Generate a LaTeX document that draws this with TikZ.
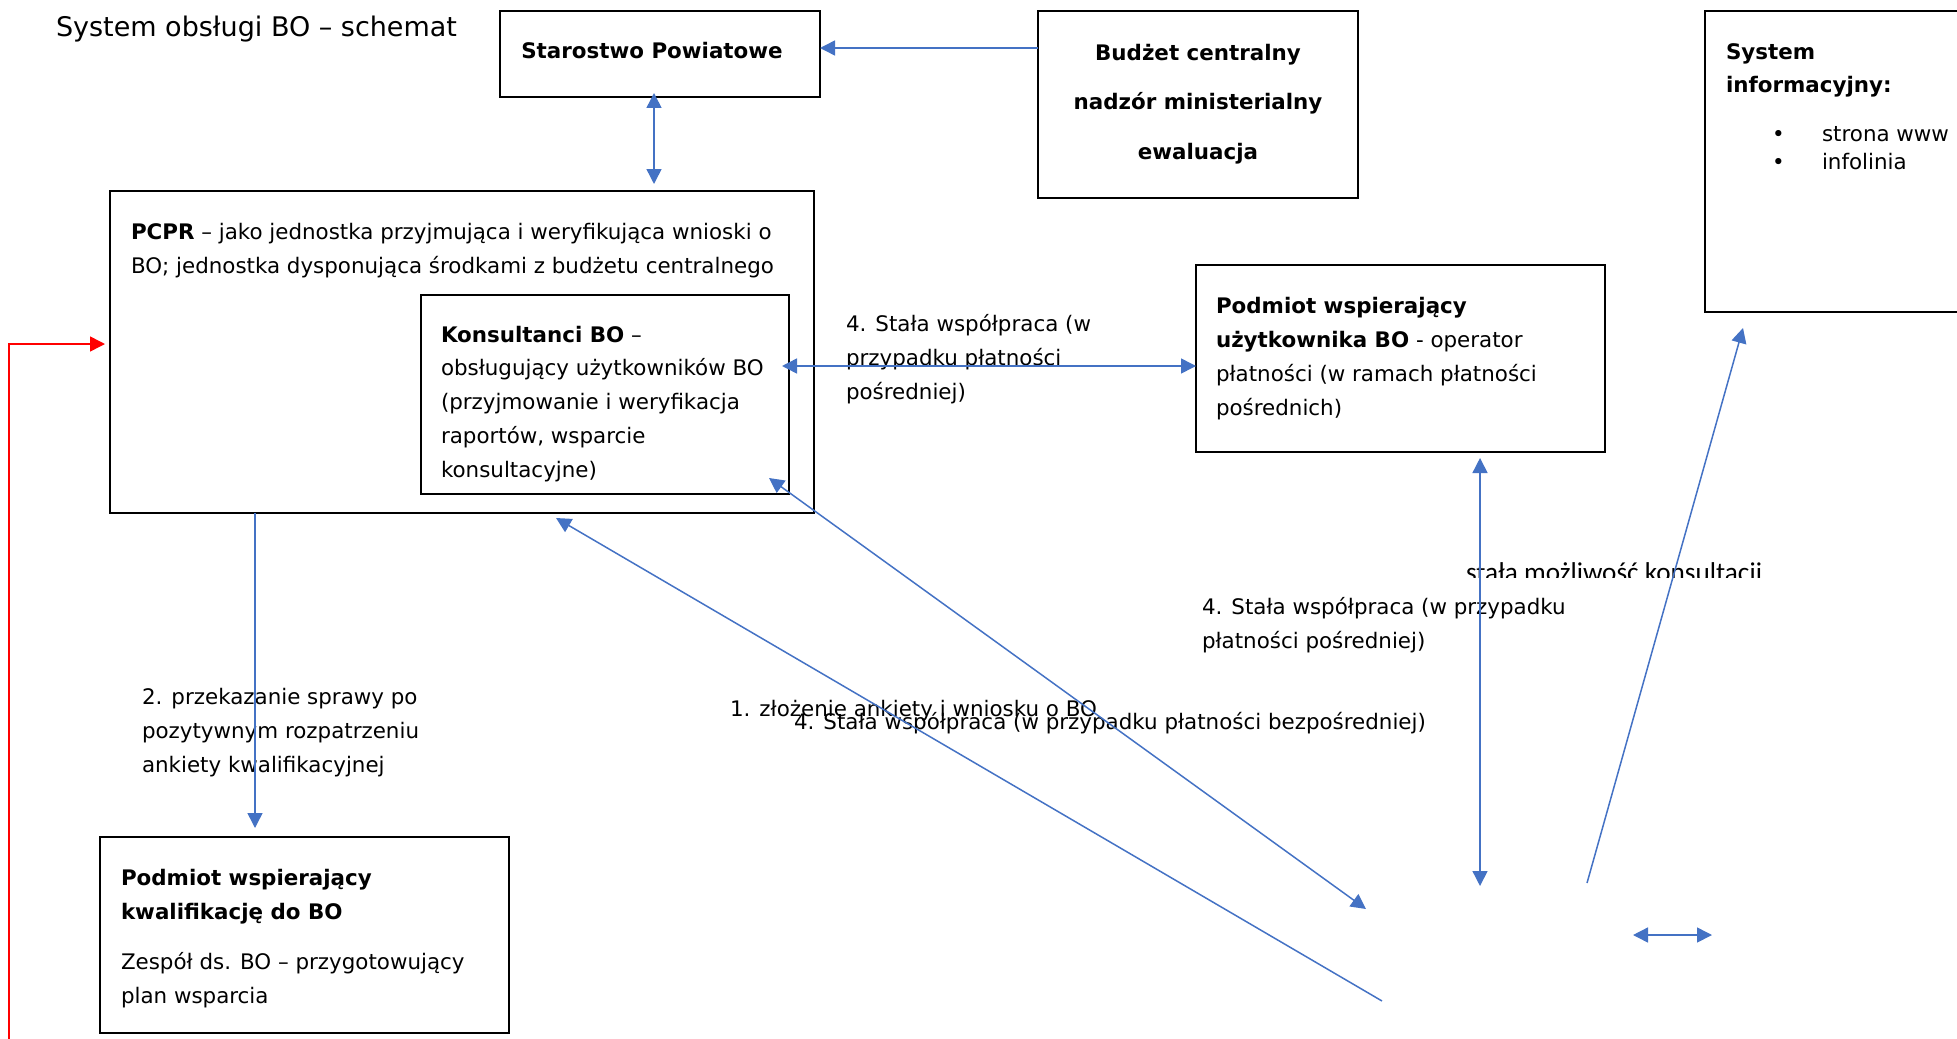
\documentclass[tikz,border=0pt]{standalone}
\usepackage{fontspec}
\setmainfont{DejaVu Sans}
\newfontfamily\calfont{Carlito}
\usetikzlibrary{arrows.meta,calc}
\definecolor{arrblue}{HTML}{4472C4}
\definecolor{arrred}{HTML}{FF0000}
\newcommand\bodyfont{\fontsize{10.7pt}{16.85pt}\selectfont}
\tikzset{
  box/.style={draw=black, line width=1pt, inner sep=0pt, outer sep=0pt},
  txt/.style={inner sep=0pt, outer sep=0pt, align=left, font=\bodyfont, anchor=base west},
  tip/.tip={Triangle[length=7.5pt,width=7.5pt]},
  arr/.style={draw=arrblue, line width=0.75pt, -tip},
  darr/.style={draw=arrblue, line width=0.75pt, tip-tip},
  redarr/.style={draw=arrred, line width=0.75pt, -tip},
}
\begin{document}
\begin{tikzpicture}[x=0.5pt,y=-0.5pt]
\useasboundingbox (0,0) rectangle (1957,1038);

% title
\node[txt, font=\fontsize{13.5pt}{16pt}\selectfont] (title) at (56,37) {System obsługi BO – schemat};

% boxes (multi-line texts are placed by the baseline of their last line)
\node[box, minimum width=160pt, minimum height=43pt] (star) at (660,54) {};
\node[txt, anchor=base] (startxt) at (652,59) {\textbf{Starostwo Powiatowe}};

\node[box, minimum width=160pt, minimum height=93pt] (bud) at (1198,104.5) {};
\node[txt, align=center, anchor=base, font=\fontsize{10.7pt}{24.75pt}\selectfont\bfseries] (budtxt) at (1198,159) {Budżet centralny\\nadzór ministerialny\\ewaluacja};

\begin{scope}
  \clip (0,0) rectangle (1957,1038);
  \node[box, minimum width=142.5pt, minimum height=150.5pt] (sys) at (1847.5,161.5) {};
\end{scope}
\node[txt, font=\fontsize{10.7pt}{17pt}\selectfont\bfseries] (systxt) at (1726,93) {System\\informacyjny:};
\node[txt, font=\fontsize{10.7pt}{13.5pt}\selectfont] (syslist) at (1772,169) {\makebox[25pt][l]{•}strona www\\\makebox[25pt][l]{•}infolinia};

\node[box, minimum width=352pt, minimum height=161pt] (pcpr) at (462,352) {};
\node[txt] (pcprtxt) at (131,273) {\textbf{PCPR} – jako jednostka przyjmująca i weryfikująca wnioski o\\BO; jednostka dysponująca środkami z budżetu centralnego};

\node[box, minimum width=184pt, minimum height=99.5pt] (kons) at (605,394.5) {};
\node[txt] (konstxt) at (441,477) {\textbf{Konsultanci BO} –\\obsługujący użytkowników BO\\(przyjmowanie i weryfikacja\\raportów, wsparcie\\konsultacyjne)};

\node[box, minimum width=204.5pt, minimum height=93.5pt] (uzyt) at (1400.5,358.5) {};
\node[txt] (uzyttxt) at (1216,415) {\textbf{Podmiot wspierający}\\\textbf{użytkownika BO} - operator\\płatności (w ramach płatności\\pośrednich)};

\node[box, minimum width=204.5pt, minimum height=98pt] (kwal) at (304.5,935) {};
\node[txt] (kwaltxt) at (121,1003) {\textbf{Podmiot wspierający}\\\textbf{kwalifikację do BO}\\[8pt]Zespół ds. BO – przygotowujący\\plan wsparcia};

% labels
\node[txt] (lab2) at (142,772) {2. przekazanie sprawy po\\pozytywnym rozpatrzeniu\\ankiety kwalifikacyjnej};
\node[txt] (lab4a) at (846,399) {4. Stała współpraca (w\\przypadku płatności\\pośredniej)};
\node[txt] (lab1) at (730,716) {1. złożenie ankiety i wniosku o BO};
\node[txt] (lab4b) at (794,729) {4. Stała współpraca (w przypadku płatności bezpośredniej)};
\node[txt] (lab4c) at (1202,648) {4. Stała współpraca (w przypadku\\płatności pośredniej)};
\begin{scope}
  \clip (1400,540) rectangle (1800,577);
  \node[txt, font=\calfont\fontsize{13.6pt}{16pt}\selectfont] (labk) at (1466,581) {stała możliwość konsultacji};
\end{scope}

% connectors
\draw[arr] (bud.west |- 0,48) -- (star.east |- 0,48);
\draw[darr] ($(star.south -| 654,0)+(0,-4)$) -- ($(pcpr.north -| 654,0)+(0,-7)$);
\draw[darr] ($(kons.east |- 0,366)+(-7,0)$) -- (uzyt.west |- 0,366);
\draw[arr] (pcpr.south -| 255,0) -- ($(kwal.north -| 255,0)+(0,-9)$);
\coordinate (e0) at (1382,1001);
\draw[arr] (e0) -- ($(pcpr.south -| 556,0)+(0,5)$);
\coordinate (f1) at (1366,909);
\draw[darr] ($(kons.south east)+(-20,-16)$) -- (f1);
\coordinate (g1) at (1480,886);
\draw[darr] ($(uzyt.south -| 1480,0)+(0,6)$) -- (g1);
\coordinate (h0) at (1587,883);
\draw[arr] (h0) -- ($(sys.south -| 1743,0)+(0,16)$);
\coordinate (i0) at (1633,935);
\coordinate (i1) at (1712,935);
\draw[darr] (i0) -- (i1);
\coordinate (r0) at (9,1040);
\draw[redarr] (r0) |- ($(pcpr.west |- 0,344)+(-5,0)$);
\end{tikzpicture}
\end{document}
